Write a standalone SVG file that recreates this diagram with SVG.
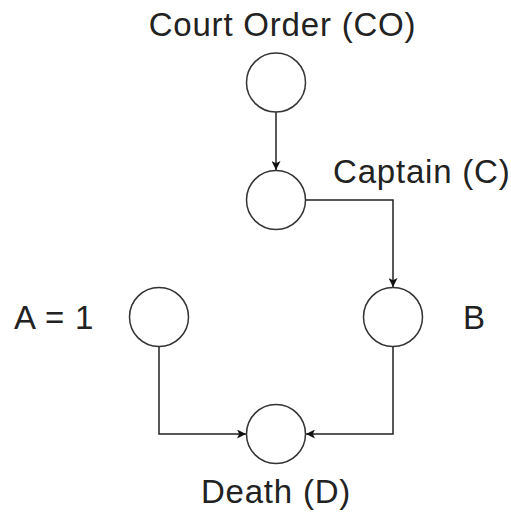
<svg xmlns="http://www.w3.org/2000/svg" width="511" height="513" viewBox="0 0 511 513">
<style>
.n{fill:#fff;stroke:#333;stroke-width:1.5}
.e{fill:none;stroke:#222;stroke-width:1.5}
.t{font-family:"Liberation Sans",Arial,sans-serif;font-size:33px;letter-spacing:0.8px;fill:#222}
</style>
<defs>
<marker id="ah" viewBox="0 0 10 10" refX="10" refY="5" markerWidth="9" markerHeight="9" markerUnits="userSpaceOnUse" orient="auto">
<path d="M0,0 L10,5 L0,10 L2.5,5 Z" fill="#111"/>
</marker>
</defs>
<rect width="511" height="513" fill="#fff"/>
<g id="connectors">
<path class="e" d="M276,112 V170" marker-end="url(#ah)"/>
<path class="e" d="M306,200 H393 V287" marker-end="url(#ah)"/>
<path class="e" d="M159,347 V434 H246" marker-end="url(#ah)"/>
<path class="e" d="M393,347 V434 H306" marker-end="url(#ah)"/>
</g>
<g id="CO">
<circle class="n" cx="276" cy="82.5" r="29.5"/>
<text class="t" x="282.5" y="36" text-anchor="middle">Court Order (CO)</text>
</g>
<g id="C">
<circle class="n" cx="276" cy="200" r="29.5"/>
<text class="t" x="333" y="183">Captain (C)</text>
</g>
<g id="A">
<circle class="n" cx="159" cy="317" r="29.5"/>
<text class="t" x="54" y="329" text-anchor="middle">A = 1</text>
</g>
<g id="B">
<circle class="n" cx="393" cy="317" r="29.5"/>
<text class="t" x="463" y="329">B</text>
</g>
<g id="D">
<circle class="n" cx="276" cy="434" r="29.5"/>
<text class="t" x="276" y="503" text-anchor="middle">Death (D)</text>
</g>
</svg>
